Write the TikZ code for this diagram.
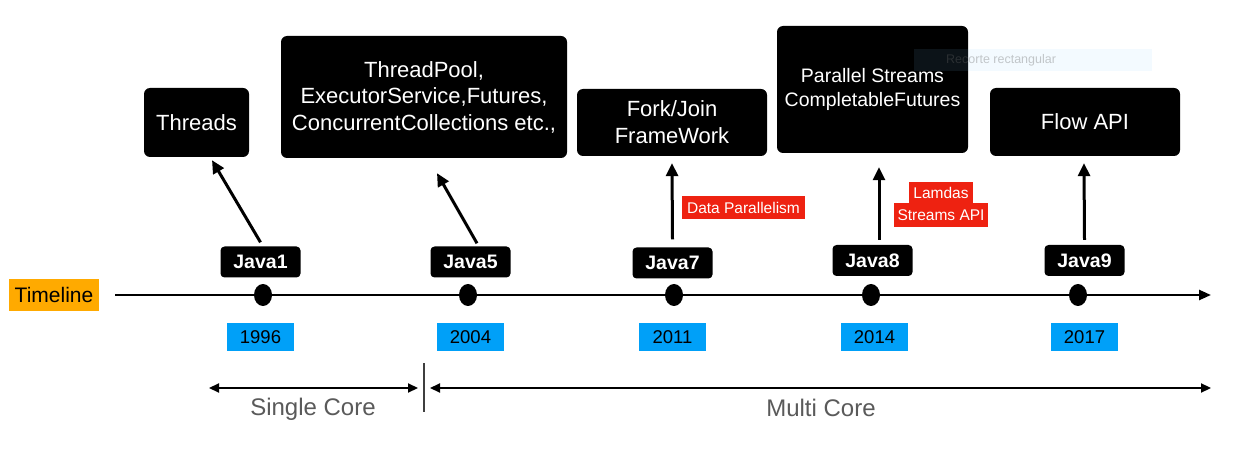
\documentclass[tikz,border=0pt]{standalone}
\usepackage{fontspec}
\setmainfont{Liberation Sans}
\usetikzlibrary{arrows.meta,shapes.geometric}
\definecolor{orangeT}{HTML}{FFAA00}
\definecolor{blueY}{HTML}{00A0F8}
\definecolor{redL}{HTML}{EE2211}
\definecolor{grayT}{HTML}{5A5A5A}
\definecolor{faintBg}{HTML}{80D0FF}
\definecolor{faintTx}{HTML}{646464}
\newcommand\myfs[2]{\fontsize{#1pt}{#2pt}\selectfont}
\begin{document}
\begin{tikzpicture}[x=1pt,y=-1pt,
  blk/.style={fill=black,rounded corners=6pt,text=white,align=center,inner sep=0pt},
  jv/.style={blk,rounded corners=4pt,minimum width=80pt,minimum height=31pt,font=\bfseries\myfs{19.5}{22}},
  yr/.style={fill=blueY,minimum width=67pt,minimum height=28pt,inner sep=0pt,font=\myfs{18.5}{20}},
  redtag/.style={fill=redL,text=white,inner sep=0pt,font=\myfs{15.5}{18}},
  dotn/.style={ellipse,fill=black,minimum width=18pt,minimum height=22pt,inner sep=0pt},
  arr/.style={-{Triangle[length=13pt,width=12pt]},line width=3pt},
  big/.style={blk,font=\myfs{22}{26.5}},
]
\useasboundingbox[fill=white] (0,0) rectangle (1243,457);

% top boxes
\node[big,minimum width=105pt,minimum height=69pt] (th) at (196.5,122.5) {Threads};
\node[big,minimum width=286pt,minimum height=122pt] (tp) at (424,97) {ThreadPool,\\ExecutorService,Futures,\\ConcurrentCollections etc.,};
\node[big,minimum width=190pt,minimum height=67pt,font=\myfs{22}{27}] (fj) at (672,122.5) {Fork/Join\\FrameWork};
\node[big,minimum width=191pt,minimum height=127pt,font=\myfs{19.5}{24}] (ps) at (872.5,89.5) {Parallel Streams\\CompletableFutures};
\node[big,minimum width=190pt,minimum height=68pt] (fa) at (1085,122) {Flow API};

% faint translucent overlay
\node[fill=faintBg,fill opacity=0.095,minimum width=238pt,minimum height=22pt,inner sep=0pt] (rc) at (1033,60) {};
\node[text=faintTx,text opacity=0.35,font=\myfs{12.5}{13},inner sep=0pt,anchor=west] (rct) at (946,60) {Recorte rectangular};

% red tags
\node[redtag,minimum width=123pt,minimum height=23pt] (dp) at (743.5,207.5) {Data Parallelism};
\node[redtag,minimum width=64pt,minimum height=21pt] (lm) at (941,192.5) {Lamdas};
\node[redtag,minimum width=94pt,minimum height=24pt] (sa) at (941,215) {Streams API};

% timeline
\node[fill=orangeT,minimum width=90pt,minimum height=32pt,inner sep=0pt,font=\myfs{21}{22}] (tl) at (54,295) {Timeline};
\coordinate (tl0) at (115,295);
\coordinate (tl1) at (1211,295);
\draw[line width=2.5pt,-{Triangle[length=12pt,width=10pt]}] (tl0) -- (tl1);

\node[dotn] (d1) at (263,295) {};
\node[dotn] (d5) at (468,295) {};
\node[dotn] (d7) at (674,295) {};
\node[dotn] (d8) at (871,295) {};
\node[dotn] (d9) at (1078,295) {};

% java labels
\node[jv] (j1) at (260.5,262) {Java1};
\node[jv] (j5) at (470.5,262) {Java5};
\node[jv] (j7) at (672.5,263) {Java7};
\node[jv] (j8) at (872.5,260.5) {Java8};
\node[jv] (j9) at (1084.5,260.5) {Java9};

% years
\node[yr] (y1) at (260.5,337) {1996};
\node[yr] (y5) at (470.5,337) {2004};
\node[yr] (y7) at (672.5,337) {2011};
\node[yr] (y8) at (874.5,337) {2014};
\node[yr] (y9) at (1084.5,337) {2017};

% arrows
\draw[arr] ([yshift=4pt]j1.north) -- ([xshift=15.5pt,yshift=-3pt]th.south);
\draw[arr] ([xshift=6.5pt,yshift=3pt]j5.north) -- ([xshift=13pt,yshift=-15pt]tp.south);
\draw[arr] ([yshift=8pt]j7.north) -- ([yshift=-7pt]fj.south);
\draw[arr] ([xshift=6.5pt,yshift=5pt]j8.north) -- ([xshift=6.5pt,yshift=-14pt]ps.south);
\draw[arr] ([yshift=5pt]j9.north) -- ([xshift=-1pt,yshift=-7pt]fa.south);

% cores
\coordinate (sc0) at (209,388);
\coordinate (sc1) at (418,388);
\coordinate (mc0) at (430,388);
\coordinate (mc1) at (1211,388);
\coordinate (dv0) at (424,363);
\coordinate (dv1) at (424,412);
\draw[line width=2.2pt,{Triangle[length=10pt,width=9pt]}-{Triangle[length=10pt,width=9pt]}] (sc0) -- (sc1);
\draw[line width=2.2pt,{Triangle[length=10pt,width=9pt]}-{Triangle[length=10pt,width=9pt]}] (mc0) -- (mc1);
\draw[line width=1.5pt,grayT!70!black] (dv0) -- (dv1);
\node[text=grayT,font=\myfs{24}{26},inner sep=0pt] (sct) at (313,409) {Single Core};
\node[text=grayT,font=\myfs{24}{26},inner sep=0pt] (mct) at (821,408) {Multi Core};
\end{tikzpicture}
\end{document}
